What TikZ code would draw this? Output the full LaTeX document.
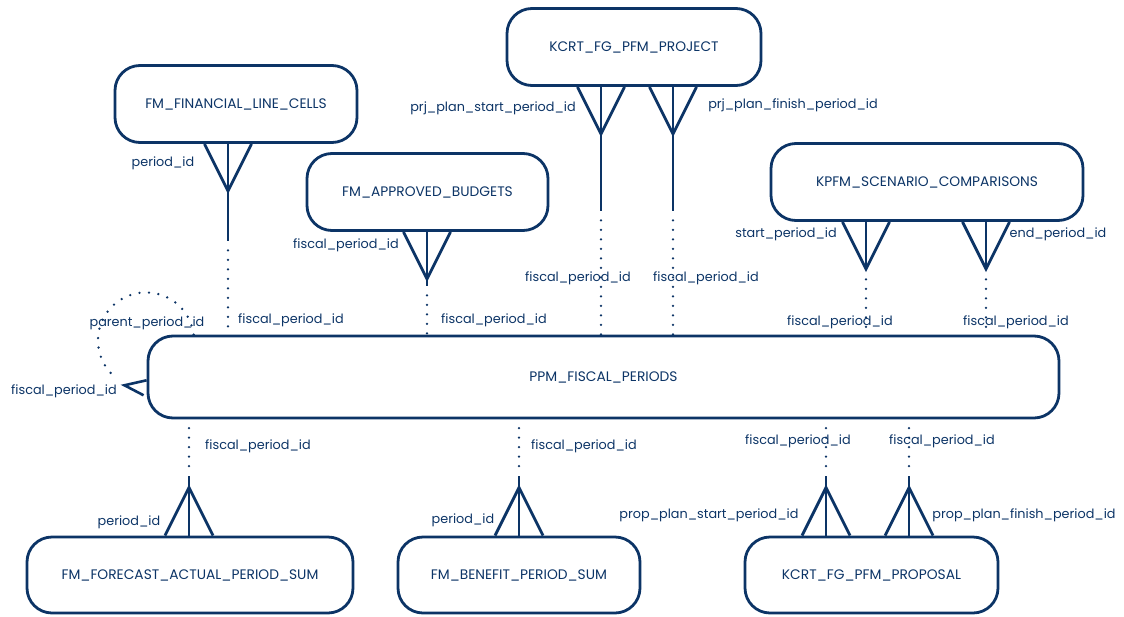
\documentclass[tikz,border=0pt]{standalone}
\usepackage{fontspec}
\setmainfont{Poppins}
\definecolor{navy}{RGB}{12,52,102}
\tikzset{
  ent/.style={draw=navy, line width=2.8pt, rounded corners=25pt, inner sep=0pt, text=navy, font=\fontsize{13.8}{16}\selectfont},
  lab/.style={text=navy, inner sep=0pt, font=\fontsize{12.8}{15}\selectfont},
  rel/.style={draw=navy, line width=2.8pt},
  dots/.style={draw=navy, line width=2.6pt, line cap=round, dash pattern=on 0pt off 9.5pt},
}
\begin{document}
\begin{tikzpicture}[x=1pt,y=1pt]
\useasboundingbox (0,0) rectangle (1124,-616);
% entities
\node[ent, minimum width=242, minimum height=77] (flc) at (236,-104) {FM\_FINANCIAL\_LINE\_CELLS};
\node[ent, minimum width=241, minimum height=77] (apb) at (427.5,-192) {FM\_APPROVED\_BUDGETS};
\node[ent, minimum width=254, minimum height=77] (prj) at (634,-47) {KCRT\_FG\_PFM\_PROJECT};
\node[ent, minimum width=312, minimum height=77] (scn) at (927,-182) {KPFM\_SCENARIO\_COMPARISONS};
\node[ent, minimum width=911, minimum height=82] (ppm) at (603.5,-377) {PPM\_FISCAL\_PERIODS};
\node[ent, minimum width=326, minimum height=76] (fap) at (190,-575) {FM\_FORECAST\_ACTUAL\_PERIOD\_SUM};
\node[ent, minimum width=242, minimum height=76] (bps) at (519,-575) {FM\_BENEFIT\_PERIOD\_SUM};
\node[ent, minimum width=253, minimum height=76] (pro) at (871.5,-575) {KCRT\_FG\_PFM\_PROPOSAL};

% upper relations: foot at child (top), dotted to ppm
\foreach \n/\x/\solid in {flc/228/97, apb/427/54, prj/601/124, prj/673/124, scn/866/48, scn/986/48}{
  \path (\n.south -| \x,0) coordinate (b) ++(0,-47) coordinate (a);
  \draw[rel] ([xshift=-23.5]b) -- (a) -- ([xshift=23.5]b);
  \draw[rel] (b) -- ++(0,-\solid) coordinate (e);
  \draw[dots] ([yshift=-9.5]e) -- (e |- ppm.north);
}
% lower relations
\foreach \n/\x in {fap/189, bps/519, pro/826, pro/909}{
  \path (\n.north -| \x,0) coordinate (b) ++(0,48) coordinate (a);
  \draw[rel] ([xshift=-24]b) -- (a) -- ([xshift=24]b);
  \draw[rel] (b) -- ++(0,60) coordinate (e);
  \draw[dots] ([yshift=9.5]e) -- (e |- ppm.south);
}
% self relation
\draw[dots] ([xshift=47]ppm.north west) arc[start angle=7, end angle=232, radius=48] coordinate (se);
\coordinate (sa) at ([shift={(8,-7)}]se);
\draw[rel, line width=2.6pt] ([yshift=5]sa -| ppm.west) -- (sa) -- ([shift={(-3,-10)}]sa -| ppm.west);

% labels
\node[lab] (l1) at (163,-163) {period\_id};
\node[lab] (l2) at (291,-320) {fiscal\_period\_id};
\node[lab] (l3) at (346,-245) {fiscal\_period\_id};
\node[lab] (l4) at (494,-320) {fiscal\_period\_id};
\node[lab] (l5) at (493,-108) {prj\_plan\_start\_period\_id};
\node[lab] (l6) at (793,-105) {prj\_plan\_finish\_period\_id};
\node[lab] (l7) at (578,-278) {fiscal\_period\_id};
\node[lab] (l8) at (706,-278) {fiscal\_period\_id};
\node[lab] (l9) at (786,-234) {start\_period\_id};
\node[lab] (l10) at (1058,-234) {end\_period\_id};
\node[lab] (l11) at (840,-322) {fiscal\_period\_id};
\node[lab] (l12) at (1016,-322) {fiscal\_period\_id};
\node[lab] (l13) at (147,-323) {parent\_period\_id};
\node[lab] (l14) at (64,-391) {fiscal\_period\_id};
\node[lab] (l15) at (258,-446) {fiscal\_period\_id};
\node[lab] (l16) at (129,-522) {period\_id};
\node[lab] (l17) at (584,-446) {fiscal\_period\_id};
\node[lab] (l18) at (463,-520) {period\_id};
\node[lab] (l19) at (798,-441) {fiscal\_period\_id};
\node[lab] (l20) at (942,-441) {fiscal\_period\_id};
\node[lab] (l21) at (709,-515) {prop\_plan\_start\_period\_id};
\node[lab] (l22) at (1024,-515) {prop\_plan\_finish\_period\_id};
\end{tikzpicture}
\end{document}
